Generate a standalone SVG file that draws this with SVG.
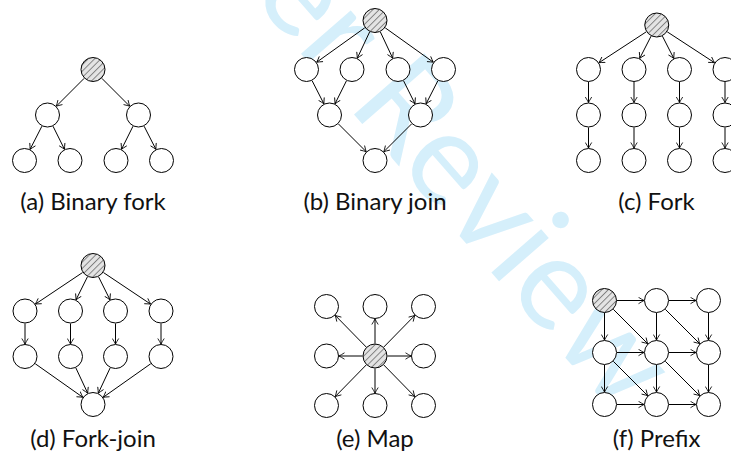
<svg xmlns="http://www.w3.org/2000/svg" width="731" height="461" viewBox="0 0 731 461">
<style>
.n{fill:#fff;stroke:#000;stroke-width:1}
.h{fill:url(#hatch);stroke:#000;stroke-width:1}
.e{stroke:#000;stroke-width:1;fill:none;marker-end:url(#ah)}
.lbl{font-family:Lato,"Open Sans","DejaVu Sans",sans-serif;font-size:24px;fill:#111;text-anchor:middle}
.wm{font-family:Lato,"Open Sans","DejaVu Sans",sans-serif;font-size:130px;fill:#d5effb}
</style>
<defs>
<pattern id="hatch" patternUnits="userSpaceOnUse" width="4.5" height="4.5" patternTransform="rotate(45)">
<rect width="4.5" height="4.5" fill="#e4e4e4"/>
<line x1="0.5" y1="0" x2="0.5" y2="4.5" stroke="#7a7a7a" stroke-width="0.9"/>
</pattern>
<marker id="ah" markerUnits="userSpaceOnUse" markerWidth="8" markerHeight="8" viewBox="-6 -4 8 8" refX="0" refY="0" orient="auto">
<path d="M-5.5,-3.2 Q-2,-1 0,0 Q-2,1 -5.5,3.2" fill="none" stroke="#000" stroke-width="0.85"/>
</marker>
</defs>

<g id="watermark">
<text class="wm" text-anchor="end" transform="translate(617,417) rotate(49)">For Peer Review</text>
</g>

<g id="connectors">
<!-- (a) -->
<line class="e" x1="84.2" y1="78.3" x2="56.3" y2="106.2"/>
<line class="e" x1="101.8" y1="78.3" x2="129.7" y2="106.2"/>
<line class="e" x1="41.9" y1="126.2" x2="30.1" y2="149.3"/>
<line class="e" x1="53.0" y1="126.2" x2="64.5" y2="149.3"/>
<line class="e" x1="133.0" y1="126.2" x2="121.5" y2="149.3"/>
<line class="e" x1="144.1" y1="126.2" x2="155.9" y2="149.3"/>
<!-- (b) -->
<line class="e" x1="364.8" y1="27.8" x2="316.7" y2="62.2"/>
<line class="e" x1="385.2" y1="27.8" x2="433.3" y2="62.2"/>
<line class="e" x1="369.7" y1="31.8" x2="357.3" y2="58.2"/>
<line class="e" x1="380.3" y1="31.8" x2="392.7" y2="58.2"/>
<line class="e" x1="312.1" y1="80.7" x2="323.9" y2="103.8"/>
<line class="e" x1="346.5" y1="80.7" x2="335.0" y2="103.8"/>
<line class="e" x1="403.5" y1="80.7" x2="415.0" y2="103.8"/>
<line class="e" x1="437.9" y1="80.7" x2="426.1" y2="103.8"/>
<line class="e" x1="338.3" y1="123.8" x2="366.2" y2="151.7"/>
<line class="e" x1="411.7" y1="123.8" x2="383.8" y2="151.7"/>
<!-- (c) -->
<line class="e" x1="646.3" y1="31.8" x2="599.0" y2="62.7"/>
<line class="e" x1="667.2" y1="31.8" x2="714.5" y2="62.7"/>
<line class="e" x1="651.1" y1="36.1" x2="639.7" y2="58.4"/>
<line class="e" x1="662.4" y1="36.1" x2="673.8" y2="58.4"/>
<line class="e" x1="588.5" y1="82" x2="588.5" y2="102.5"/>
<line class="e" x1="588.5" y1="127.5" x2="588.5" y2="148"/>
<line class="e" x1="634" y1="82" x2="634" y2="102.5"/>
<line class="e" x1="634" y1="127.5" x2="634" y2="148"/>
<line class="e" x1="679.5" y1="82" x2="679.5" y2="102.5"/>
<line class="e" x1="679.5" y1="127.5" x2="679.5" y2="148"/>
<line class="e" x1="725" y1="82" x2="725" y2="102.5"/>
<line class="e" x1="725" y1="127.5" x2="725" y2="148"/>
<!-- (d) -->
<line class="e" x1="82.6" y1="272.5" x2="35.4" y2="304.1"/>
<line class="e" x1="103.4" y1="272.5" x2="150.6" y2="304.1"/>
<line class="e" x1="87.5" y1="276.7" x2="76.0" y2="299.8"/>
<line class="e" x1="98.5" y1="276.7" x2="110.0" y2="299.8"/>
<line class="e" x1="25" y1="323.5" x2="25" y2="344"/>
<line class="e" x1="70.5" y1="323.5" x2="70.5" y2="344"/>
<line class="e" x1="115.5" y1="323.5" x2="115.5" y2="344"/>
<line class="e" x1="161" y1="323.5" x2="161" y2="344"/>
<line class="e" x1="35.2" y1="363.7" x2="82.8" y2="397.3"/>
<line class="e" x1="150.8" y1="363.7" x2="103.2" y2="397.3"/>
<line class="e" x1="75.8" y1="367.8" x2="87.7" y2="393.2"/>
<line class="e" x1="110.2" y1="367.8" x2="98.3" y2="393.2"/>
<!-- (e) -->
<line class="e" x1="366.25" y1="347.07" x2="335.25" y2="315.43"/>
<line class="e" x1="383.75" y1="347.07" x2="414.75" y2="315.43"/>
<line class="e" x1="366.25" y1="364.93" x2="335.25" y2="396.57"/>
<line class="e" x1="383.75" y1="364.93" x2="414.75" y2="396.57"/>
<line class="e" x1="375" y1="343.5" x2="375" y2="319"/>
<line class="e" x1="375" y1="368.5" x2="375" y2="393"/>
<line class="e" x1="362.5" y1="356" x2="339" y2="356"/>
<line class="e" x1="387.5" y1="356" x2="411" y2="356"/>
<!-- (f) -->
<line class="e" x1="617" y1="300.5" x2="644" y2="300.5"/>
<line class="e" x1="669" y1="300.5" x2="696" y2="300.5"/>
<line class="e" x1="617" y1="352.5" x2="644" y2="352.5"/>
<line class="e" x1="669" y1="352.5" x2="696" y2="352.5"/>
<line class="e" x1="617" y1="404.5" x2="644" y2="404.5"/>
<line class="e" x1="669" y1="404.5" x2="696" y2="404.5"/>
<line class="e" x1="604.5" y1="313" x2="604.5" y2="340"/>
<line class="e" x1="604.5" y1="365" x2="604.5" y2="392"/>
<line class="e" x1="656.5" y1="313" x2="656.5" y2="340"/>
<line class="e" x1="656.5" y1="365" x2="656.5" y2="392"/>
<line class="e" x1="708.5" y1="313" x2="708.5" y2="340"/>
<line class="e" x1="708.5" y1="365" x2="708.5" y2="392"/>
<line class="e" x1="613.3" y1="309.3" x2="647.7" y2="343.7"/>
<line class="e" x1="665.3" y1="309.3" x2="699.7" y2="343.7"/>
<line class="e" x1="613.3" y1="361.3" x2="647.7" y2="395.7"/>
<line class="e" x1="665.3" y1="361.3" x2="699.7" y2="395.7"/>
</g>

<!-- (a) nodes -->
<g id="a-root"><circle class="h" cx="93" cy="69.5" r="12"/></g>
<g id="a-l"><circle class="n" cx="47.5" cy="115" r="12"/></g>
<g id="a-r"><circle class="n" cx="138.5" cy="115" r="12"/></g>
<g id="a-ll"><circle class="n" cx="24.5" cy="160.5" r="12"/></g>
<g id="a-lr"><circle class="n" cx="70" cy="160.5" r="12"/></g>
<g id="a-rl"><circle class="n" cx="116" cy="160.5" r="12"/></g>
<g id="a-rr"><circle class="n" cx="161.5" cy="160.5" r="12"/></g>
<!-- (b) nodes -->
<g id="b-root"><circle class="h" cx="375" cy="20.5" r="12"/></g>
<g id="b-1"><circle class="n" cx="306.5" cy="69.5" r="12"/></g>
<g id="b-2"><circle class="n" cx="352" cy="69.5" r="12"/></g>
<g id="b-3"><circle class="n" cx="398" cy="69.5" r="12"/></g>
<g id="b-4"><circle class="n" cx="443.5" cy="69.5" r="12"/></g>
<g id="b-5"><circle class="n" cx="329.5" cy="115" r="12"/></g>
<g id="b-6"><circle class="n" cx="420.5" cy="115" r="12"/></g>
<g id="b-7"><circle class="n" cx="375" cy="160.5" r="12"/></g>
<!-- (c) nodes -->
<g id="c-root"><circle class="h" cx="656.75" cy="25" r="12"/></g>
<g id="c-1a"><circle class="n" cx="588.5" cy="69.5" r="12"/></g>
<g id="c-1b"><circle class="n" cx="588.5" cy="115" r="12"/></g>
<g id="c-1c"><circle class="n" cx="588.5" cy="160.5" r="12"/></g>
<g id="c-2a"><circle class="n" cx="634" cy="69.5" r="12"/></g>
<g id="c-2b"><circle class="n" cx="634" cy="115" r="12"/></g>
<g id="c-2c"><circle class="n" cx="634" cy="160.5" r="12"/></g>
<g id="c-3a"><circle class="n" cx="679.5" cy="69.5" r="12"/></g>
<g id="c-3b"><circle class="n" cx="679.5" cy="115" r="12"/></g>
<g id="c-3c"><circle class="n" cx="679.5" cy="160.5" r="12"/></g>
<g id="c-4a"><circle class="n" cx="725" cy="69.5" r="12"/></g>
<g id="c-4b"><circle class="n" cx="725" cy="115" r="12"/></g>
<g id="c-4c"><circle class="n" cx="725" cy="160.5" r="12"/></g>
<!-- (d) nodes -->
<g id="d-root"><circle class="h" cx="93" cy="265.5" r="12"/></g>
<g id="d-1a"><circle class="n" cx="25" cy="311" r="12"/></g>
<g id="d-2a"><circle class="n" cx="70.5" cy="311" r="12"/></g>
<g id="d-3a"><circle class="n" cx="115.5" cy="311" r="12"/></g>
<g id="d-4a"><circle class="n" cx="161" cy="311" r="12"/></g>
<g id="d-1b"><circle class="n" cx="25" cy="356.5" r="12"/></g>
<g id="d-2b"><circle class="n" cx="70.5" cy="356.5" r="12"/></g>
<g id="d-3b"><circle class="n" cx="115.5" cy="356.5" r="12"/></g>
<g id="d-4b"><circle class="n" cx="161" cy="356.5" r="12"/></g>
<g id="d-join"><circle class="n" cx="93" cy="404.5" r="12"/></g>
<!-- (e) nodes -->
<g id="e-center"><circle class="h" cx="375" cy="356" r="12"/></g>
<g id="e-nw"><circle class="n" cx="326.5" cy="306.5" r="12"/></g>
<g id="e-n"><circle class="n" cx="375" cy="306.5" r="12"/></g>
<g id="e-ne"><circle class="n" cx="423.5" cy="306.5" r="12"/></g>
<g id="e-w"><circle class="n" cx="326.5" cy="356" r="12"/></g>
<g id="e-e"><circle class="n" cx="423.5" cy="356" r="12"/></g>
<g id="e-sw"><circle class="n" cx="326.5" cy="405.5" r="12"/></g>
<g id="e-s"><circle class="n" cx="375" cy="405.5" r="12"/></g>
<g id="e-se"><circle class="n" cx="423.5" cy="405.5" r="12"/></g>
<!-- (f) nodes -->
<g id="f-00"><circle class="h" cx="604.5" cy="300.5" r="12"/></g>
<g id="f-01"><circle class="n" cx="656.5" cy="300.5" r="12"/></g>
<g id="f-02"><circle class="n" cx="708.5" cy="300.5" r="12"/></g>
<g id="f-10"><circle class="n" cx="604.5" cy="352.5" r="12"/></g>
<g id="f-11"><circle class="n" cx="656.5" cy="352.5" r="12"/></g>
<g id="f-12"><circle class="n" cx="708.5" cy="352.5" r="12"/></g>
<g id="f-20"><circle class="n" cx="604.5" cy="404.5" r="12"/></g>
<g id="f-21"><circle class="n" cx="656.5" cy="404.5" r="12"/></g>
<g id="f-22"><circle class="n" cx="708.5" cy="404.5" r="12"/></g>

<g id="labels">
<text class="lbl" x="93" y="210">(a) Binary fork</text>
<text class="lbl" x="375" y="210">(b) Binary join</text>
<text class="lbl" x="656.5" y="210">(c) Fork</text>
<text class="lbl" x="93" y="447">(d) Fork-join</text>
<text class="lbl" x="375" y="447">(e) Map</text>
<text class="lbl" x="656.5" y="447">(f) Prefix</text>
</g>
</svg>
